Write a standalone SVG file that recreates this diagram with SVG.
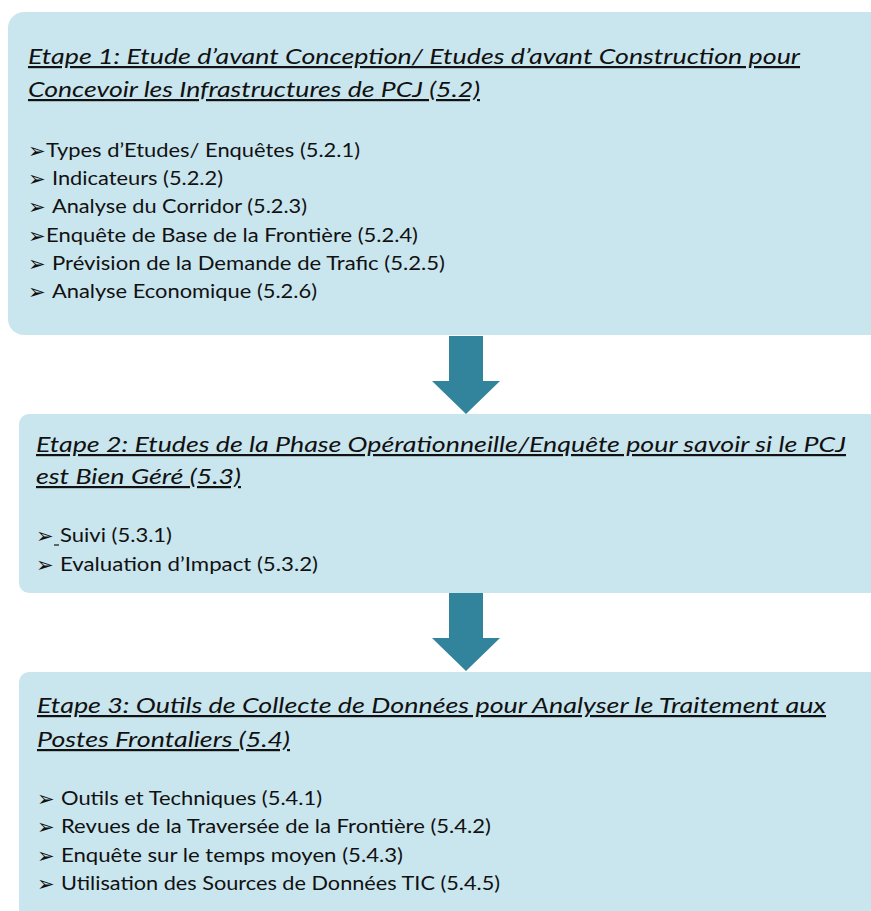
<svg xmlns="http://www.w3.org/2000/svg" width="871" height="911" viewBox="0 0 871 911">
  <style>
    .box { fill: #C9E5EE; }
    .arrow { fill: #31849B; }
    .title { font-family: Lato, "Open Sans", "Liberation Sans", sans-serif; font-style: italic; font-size: 22px; fill: #111; text-decoration: underline; }
    .item { font-family: Lato, "Open Sans", "Liberation Sans", sans-serif; font-size: 19.5px; fill: #111; }
    .bullet { font-family: "DejaVu Sans", sans-serif; font-size: 21px; fill: #111; }
  </style>
  <rect width="871" height="911" fill="#FFFFFF"/>

  <g id="connectors">
    <path class="arrow" d="M449,336 H483 V381 H500 L466,414 L432,381 H449 Z"/>
    <path class="arrow" d="M449,593 H483 V638 H500 L466,671 L432,638 H449 Z"/>
  </g>

  <g id="etape1">
    <rect class="box" x="8" y="12" width="880" height="323" rx="16"/>
    <text class="title" x="28" y="64" textLength="772" lengthAdjust="spacingAndGlyphs">Etape 1: Etude d’avant Conception/ Etudes d’avant Construction pour</text>
    <text class="title" x="28" y="97" textLength="452" lengthAdjust="spacingAndGlyphs">Concevoir les Infrastructures de PCJ (5.2)</text>
    <text class="bullet" x="28" y="158">➢</text>
    <text class="item" x="46" y="157" textLength="314" lengthAdjust="spacingAndGlyphs">Types d’Etudes/ Enquêtes (5.2.1)</text>
    <text class="bullet" x="28" y="186">➢</text>
    <text class="item" x="52" y="185" textLength="171" lengthAdjust="spacingAndGlyphs">Indicateurs (5.2.2)</text>
    <text class="bullet" x="28" y="214">➢</text>
    <text class="item" x="52" y="213" textLength="255" lengthAdjust="spacingAndGlyphs">Analyse du Corridor (5.2.3)</text>
    <text class="bullet" x="28" y="243">➢</text>
    <text class="item" x="46" y="242" textLength="372" lengthAdjust="spacingAndGlyphs">Enquête de Base de la Frontière (5.2.4)</text>
    <text class="bullet" x="28" y="271">➢</text>
    <text class="item" x="52" y="270" textLength="393" lengthAdjust="spacingAndGlyphs">Prévision de la Demande de Trafic (5.2.5)</text>
    <text class="bullet" x="28" y="299">➢</text>
    <text class="item" x="52" y="298" textLength="265" lengthAdjust="spacingAndGlyphs">Analyse Economique (5.2.6)</text>
  </g>

  <g id="etape2">
    <rect class="box" x="19" y="414" width="880" height="179" rx="10"/>
    <text class="title" x="36" y="452" textLength="810" lengthAdjust="spacingAndGlyphs">Etape 2: Etudes de la Phase Opérationneille/Enquête pour savoir si le PCJ</text>
    <text class="title" x="36" y="484" textLength="205" lengthAdjust="spacingAndGlyphs">est Bien Géré (5.3)</text>
    <text class="bullet" x="36" y="543">➢</text>
    <line x1="54" y1="545" x2="59" y2="545" stroke="#111" stroke-width="1.2"/>
    <text class="item" x="60" y="542" textLength="112" lengthAdjust="spacingAndGlyphs">Suivi (5.3.1)</text>
    <text class="bullet" x="36" y="572">➢</text>
    <text class="item" x="60" y="571" textLength="258" lengthAdjust="spacingAndGlyphs">Evaluation d’Impact (5.3.2)</text>
  </g>

  <g id="etape3">
    <rect class="box" x="19" y="672" width="880" height="260" rx="10"/>
    <text class="title" x="37" y="713" textLength="789" lengthAdjust="spacingAndGlyphs">Etape 3: Outils de Collecte de Données pour Analyser le Traitement aux</text>
    <text class="title" x="37" y="747" textLength="253" lengthAdjust="spacingAndGlyphs">Postes Frontaliers (5.4)</text>
    <text class="bullet" x="37" y="806">➢</text>
    <text class="item" x="61" y="805" textLength="261" lengthAdjust="spacingAndGlyphs">Outils et Techniques (5.4.1)</text>
    <text class="bullet" x="37" y="834">➢</text>
    <text class="item" x="61" y="833" textLength="430" lengthAdjust="spacingAndGlyphs">Revues de la Traversée de la Frontière (5.4.2)</text>
    <text class="bullet" x="37" y="863">➢</text>
    <text class="item" x="61" y="862" textLength="342" lengthAdjust="spacingAndGlyphs">Enquête sur le temps moyen (5.4.3)</text>
    <text class="bullet" x="37" y="891">➢</text>
    <text class="item" x="61" y="890" textLength="439" lengthAdjust="spacingAndGlyphs">Utilisation des Sources de Données TIC (5.4.5)</text>
  </g>
</svg>
